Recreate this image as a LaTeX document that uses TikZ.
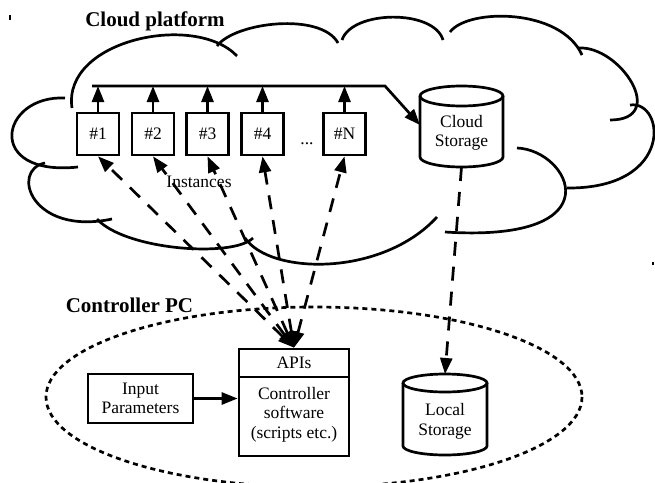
\documentclass[tikz,border=0pt]{standalone}
\usepackage{fontspec}
\setmainfont{Liberation Serif}
\usetikzlibrary{arrows.meta}
\tikzset{
  every node/.style={font=\fontsize{17.5}{19.5}\selectfont, align=center},
  ttl/.style={font=\bfseries\fontsize{21}{24}\selectfont},
  box/.style={draw, line width=2.7pt, inner sep=0pt},
  inst/.style={box, minimum width=42pt, minimum height=42pt},
  tip/.tip={Triangle[length=16pt,width=12pt]},
  solidarr/.style={line width=2.7pt, -tip},
  dasharr/.style={line width=2.7pt, dash pattern=on 14pt off 11pt, tip-tip},
  dasharrone/.style={line width=2.7pt, dash pattern=on 14pt off 11pt, -tip},
  lobe/.style={line width=2.7pt},
  dotline/.style={line width=2.7pt, dash pattern=on 5pt off 4pt},
  tick/.style={line width=1.5pt}
}
\begin{document}
\begin{tikzpicture}[x=1pt,y=-1pt]
\useasboundingbox (0,0) rectangle (655,482);

% cloud outline
\draw[lobe] (72,108) .. controls (62,40) and (195,12) .. (237,56);
\draw[lobe] (217,46) .. controls (235,22) and (321,12) .. (338,43);
\draw[lobe] (342,40) .. controls (352,10) and (434,9) .. (443,40);
\draw[lobe] (450,32) .. controls (468,8) and (561,8) .. (582,55);
\draw[lobe] (578,48) .. controls (620,45) and (669,120) .. (610,120);
\draw[lobe] (630,105) .. controls (665,100) and (675,189) .. (567,188);
\draw[lobe] (517,148) .. controls (570,150) and (617,243) .. (445,232);
\draw[lobe] (245,238) .. controls (270,275) and (382,277) .. (437,217);
\draw[lobe] (97,219) .. controls (125,250) and (233,258) .. (253,238);
\draw[lobe] (45,163) .. controls (10,170) and (31,236) .. (112,219);
\draw[lobe] (65,98) .. controls (0,95) and (-16,177) .. (78,167);

% titles
\node[ttl] (t1) at (155,21) {Cloud platform};
\node[ttl] (t2) at (129.5,305) {Controller PC};

% instances
\node[inst] (i1) at (98,134) {\#1};
\node[inst] (i2) at (153,134) {\#2};
\node[inst] (i3) at (207.5,134) {\#3};
\node[inst] (i4) at (262.5,134) {\#4};
\node[inst] (iN) at (344.5,134) {\#N};
\node (dots) at (307,144) {...};
\node (lbl) at (199,182) {Instances};

% cloud storage
\draw[box] (420,96) -- (420,157) arc[start angle=180, end angle=0, x radius=41.5, y radius=10] -- (503,96);
\draw[box] (461.5,96) ellipse[x radius=41.5, y radius=10];
\node (cs) at (461.5,133) {Cloud\\Storage};
\coordinate (csL) at (420,125);
\coordinate (csB) at (461.5,167);

% bus
\coordinate (busL) at (92,86);
\coordinate (busR) at (385,86);
\draw[solidarr] (busL) -- (busR) -- (csL);
\foreach \i in {1,2,3,4,N}
  \draw[solidarr] (i\i.north) -- (i\i.north |- busL);

% controller PC
\draw[dotline] (314,397) ellipse[x radius=268, y radius=90];
\node[box, minimum width=105pt, minimum height=49pt] (inp) at (140.5,398.5) {Input\\Parameters};
\node[box, minimum width=110pt, minimum height=107pt] (api) at (294,402.5) {};
\coordinate (sepL) at (239,377);
\coordinate (sepR) at (349,377);
\draw[line width=1.6pt] (sepL) -- (sepR);
\node (apis) at (294,363) {APIs};
\node (ctrl) at (294,414.5) {Controller\\software\\(scripts etc.)};
\draw[solidarr] (inp.east) -- (inp.east -| api.west);

% local storage
\draw[box] (403,383) -- (403,446) arc[start angle=180, end angle=0, x radius=42, y radius=9] -- (487,383);
\draw[box] (445,383) ellipse[x radius=42, y radius=9];
\node (ls) at (445,421.5) {Local\\Storage};
\coordinate (lsT) at (445,374);

% dashed connectors
\foreach \i in {1,2,3,4,N}
  \draw[dasharr] (api.north) -- (i\i.south);
\draw[dasharrone] (csB) -- (lsT);

% small marks
\draw[tick] (10,15) -- (10,20);
\draw[tick] (653,262) -- (653,265);
\end{tikzpicture}
\end{document}
